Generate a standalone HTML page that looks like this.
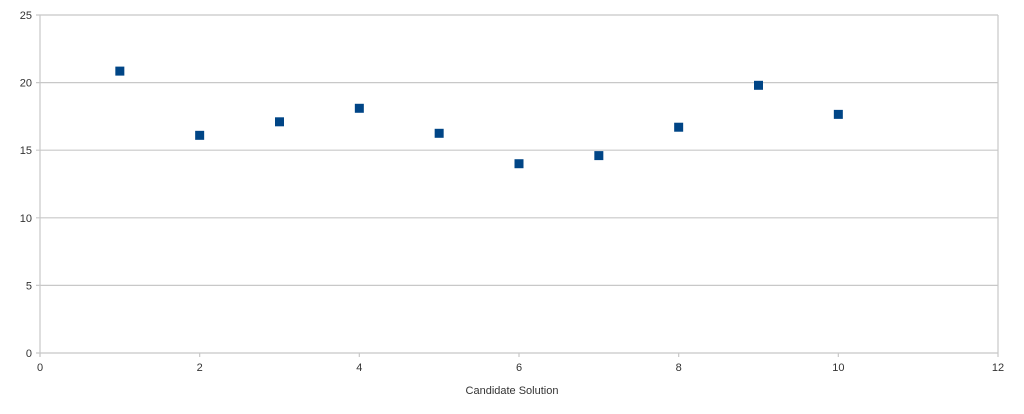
<!DOCTYPE html>
<html><head><meta charset="utf-8"><style>
html,body{margin:0;padding:0;background:#fff;}
svg{display:block;font-family:"Liberation Sans",sans-serif;}
</style></head><body>
<svg id="chart" width="1024" height="414"></svg>
<script>
const xTicks=[0,2,4,6,8,10,12];
const yTicks=[0,5,10,15,20,25];
const xValues=[1,2,3,4,5,6,7,8,9,10];
const yValues=[20.85,16.1,17.1,18.1,16.25,14.0,14.6,16.7,19.8,17.65];
const NS="http://www.w3.org/2000/svg";
const svg=document.getElementById('chart');
const L=40,R=998,T=15,B=353;
const xs=v=>L+(v-0)/(12-0)*(R-L);
const ys=v=>B-(v-0)/(25-0)*(B-T);
function mk(tag,attrs){const e=document.createElementNS(NS,tag);for(const k in attrs)e.setAttribute(k,attrs[k]);svg.appendChild(e);return e;}
yTicks.forEach(t=>{
  const g=mk('line',{x1:L-4,x2:R,y1:ys(t),y2:ys(t),stroke:'#c8c8c8','stroke-width':1.2});
  
  
  const tx=mk('text',{x:L-8,y:ys(t)+4,'text-anchor':'end','font-size':11,fill:'#333'});
  tx.textContent=t;
  
  
});
const ya=mk('line',{x1:L,x2:L,y1:T,y2:B+4,stroke:'#c8c8c8','stroke-width':1.2});


const ra=mk('line',{x1:R,x2:R,y1:T,y2:B,stroke:'#c8c8c8','stroke-width':1.2});


xTicks.forEach(t=>{
  const tk=mk('line',{x1:xs(t),x2:xs(t),y1:B,y2:B+4,stroke:'#c8c8c8','stroke-width':1.2});
  
  
  const tx=mk('text',{x:xs(t),y:B+18,'text-anchor':'middle','font-size':11,fill:'#333'});
  tx.textContent=t;
  
  
});
xValues.forEach((x,i)=>{
  const p=mk('rect',{x:xs(x)-4.5,y:ys(yValues[i])-4.5,width:9,height:9,fill:'#004586'});
  
  
});
const xt=mk('text',{x:512,y:394,'text-anchor':'middle','font-size':11,fill:'#333'});
xt.textContent='Candidate Solution';


</script>
</body></html>
